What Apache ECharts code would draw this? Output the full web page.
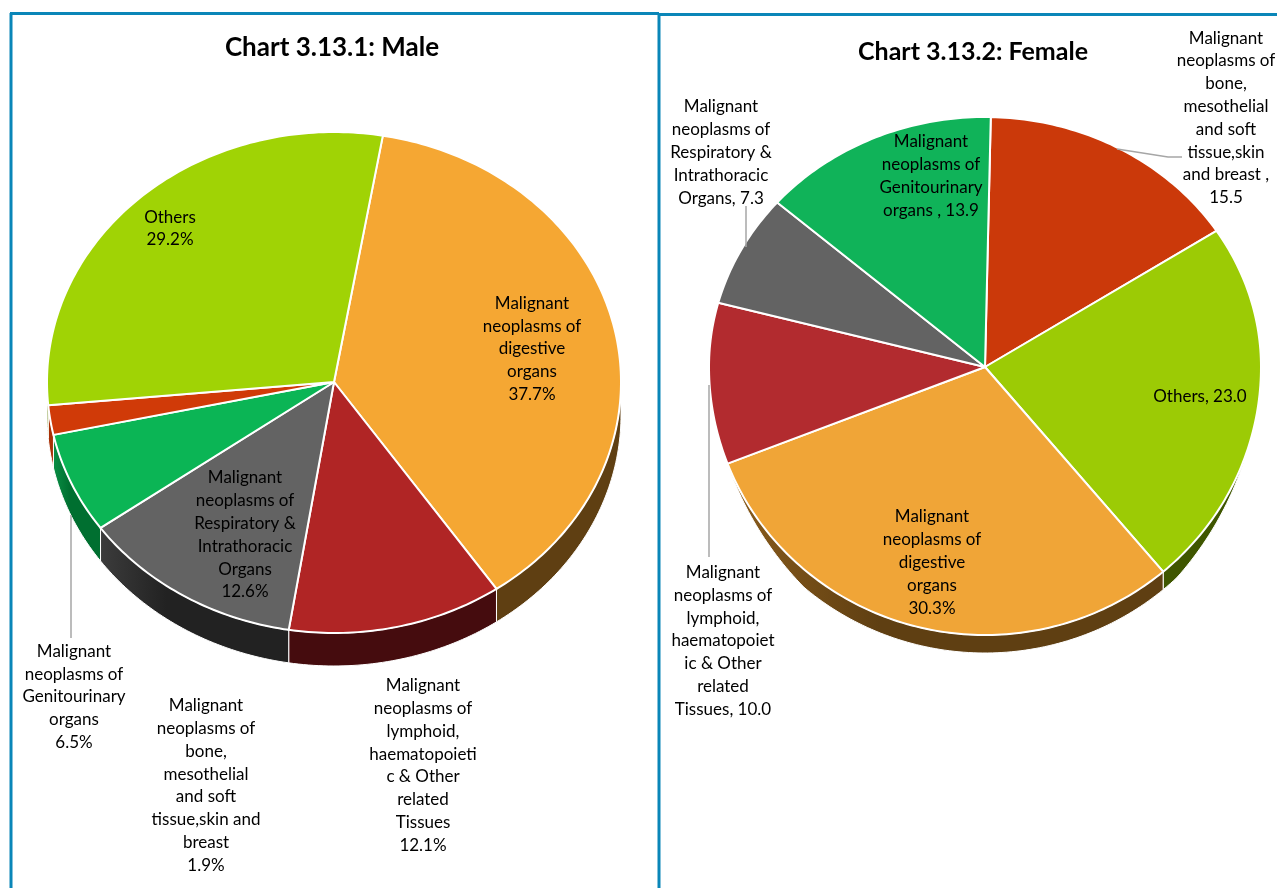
<!DOCTYPE html>
<html>
<head>
<meta charset="utf-8">
<title>Chart 3.13</title>
<script src="https://cdn.jsdelivr.net/npm/echarts@6/dist/echarts.min.js"></script>
<style>
  html, body { margin: 0; padding: 0; background: #fff; }
  #main { width: 1277px; height: 888px; }
</style>
</head>
<body>
<div id="main"></div>
<script>
  // values, clockwise from the first slice
  var maleNames = ['Digestive', 'Lymphoid', 'Respiratory', 'Genitourinary', 'Bone', 'Others'];
  var maleValues = [37.7, 12.1, 12.6, 6.5, 1.9, 29.2];
  var maleLabels = [
    'Malignant\nneoplasms of\ndigestive\norgans\n37.7%',
    'Malignant\nneoplasms of\nlymphoid,\nhaematopoieti\nc & Other\nrelated\nTissues\n12.1%',
    'Malignant\nneoplasms of\nRespiratory &\nIntrathoracic\nOrgans\n12.6%',
    'Malignant\nneoplasms of\nGenitourinary\norgans\n6.5%',
    'Malignant\nneoplasms of\nbone,\nmesothelial\nand soft\ntissue,skin and\nbreast\n1.9%',
    'Others\n29.2%'
  ];

  var femaleNames = ['Bone', 'Others', 'Digestive', 'Lymphoid', 'Respiratory', 'Genitourinary'];
  var femaleValues = [15.5, 23.0, 30.3, 10.0, 7.3, 13.9];
  var femaleLabels = [
    'Malignant\nneoplasms of\nbone,\nmesothelial\nand soft\ntissue,skin\nand breast ,\n15.5',
    'Others, 23.0',
    'Malignant\nneoplasms of\ndigestive\norgans\n30.3%',
    'Malignant\nneoplasms of\nlymphoid,\nhaematopoiet\nic & Other\nrelated\nTissues, 10.0',
    'Malignant\nneoplasms of\nRespiratory &\nIntrathoracic\nOrgans, 7.3',
    'Malignant\nneoplasms of\nGenitourinary\norgans , 13.9'
  ];

  // where the pies and their labels sit, and how they look
  var malePie = {
    cx: 334, cy: 382, rx: 287, ryTop: 250, ryBottom: 251, depth: 33, startDeg: 9.8,
    wallFrom: 90, wallTo: 270, taper: 0,
    labelPos: [[532, 349], [423, 765.5], [245, 535], [74, 697], [206, 785.5], [170, 228.5]],
    top: {
      Digestive: '#f5a733', Lymphoid: '#b02525', Respiratory: '#636363',
      Genitourinary: '#0bb555', Bone: '#d03a08', Others: '#a0d305'
    },
    side: {
      Digestive: ['#5f3f12', '#5f3f12'], Lymphoid: ['#450c0e', '#450c0e'], Respiratory: ['#3c3c3c', '#222222'],
      Genitourinary: ['#0a8f45', '#006f30'], Bone: ['#a83006', '#a83006'], Others: ['#5f7d03', '#5f7d03']
    }
  };
  var femalePie = {
    cx: 985, cy: 367, rx: 276, ryTop: 250, ryBottom: 268, depth: 18, startDeg: 1.2,
    wallFrom: 108, wallTo: 249, taper: 28,
    labelPos: [[1226, 118], [1200, 397], [932, 562.5], [723, 641], [721, 152.5], [931, 176]],
    top: {
      Digestive: '#f0a537', Lymphoid: '#b22b2f', Respiratory: '#636363',
      Genitourinary: '#10b359', Bone: '#cb390a', Others: '#9ccb05'
    },
    side: {
      Digestive: ['#8a5c1c', '#5f3f12'], Lymphoid: ['#6b1517', '#6b1517'], Respiratory: ['#3c3c3c', '#222222'],
      Genitourinary: ['#0a8f45', '#006f30'], Bone: ['#8a2806', '#8a2806'], Others: ['#3f5600', '#3f5600']
    }
  };

  var labelFont = '17px Lato';

  function ellipsePoint(pie, deg, shift) {
    var a = deg * Math.PI / 180;
    var c = Math.cos(a);
    return [pie.cx + pie.rx * Math.sin(a), pie.cy - (c > 0 ? pie.ryTop : pie.ryBottom) * c + shift];
  }

  // wall height, thinning out towards the ends of the visible wall on the flatter pie
  function wallShift(pie, deg) {
    if (!pie.taper) { return pie.depth; }
    var edge = Math.min(deg - pie.wallFrom, pie.wallTo - deg);
    return pie.depth * Math.max(0, Math.min(1, edge / pie.taper));
  }

  function arcPoints(pie, from, to, isLower) {
    var pts = [];
    var n = Math.max(2, Math.ceil(to - from));
    for (var i = 0; i <= n; i++) {
      var deg = from + (to - from) * i / n;
      pts.push(ellipsePoint(pie, deg, isLower ? wallShift(pie, deg) : 0));
    }
    return pts;
  }

  function pieItem(pie, names, values, labels) {
    var total = values.reduce(function (s, v) { return s + v; }, 0);
    return function (params, api) {
      var i = params.dataIndex;
      var before = 0;
      for (var k = 0; k < i; k++) { before += values[k]; }
      var from = pie.startDeg + before / total * 360;
      var to = from + api.value(0) / total * 360;
      var name = names[i];
      var children = [];

      // only the front of the drum shows a wall
      var wallFrom = Math.max(from, pie.wallFrom);
      var wallTo = Math.min(to, pie.wallTo);
      if (wallTo > wallFrom) {
        var upper = arcPoints(pie, wallFrom, wallTo, false);
        var lower = arcPoints(pie, wallFrom, wallTo, true).reverse();
        children.push({
          type: 'polygon',
          z2: 1,
          shape: { points: upper.concat(lower) },
          style: {
            fill: new echarts.graphic.LinearGradient(0, 0, 1, 0, [
              { offset: 0, color: pie.side[name][0] },
              { offset: 0.35, color: pie.side[name][1] },
              { offset: 1, color: pie.side[name][1] }
            ]),
            stroke: '#fff',
            lineWidth: 1
          }
        });
      }

      children.push({
        type: 'polygon',
        z2: 2,
        shape: { points: [[pie.cx, pie.cy]].concat(arcPoints(pie, from, to, false)) },
        style: { fill: pie.top[name], stroke: '#fff', lineWidth: 2, lineJoin: 'round' }
      });

      children.push({
        type: 'text',
        z2: 5,
        style: {
          text: labels[i],
          x: pie.labelPos[i][0],
          y: pie.labelPos[i][1],
          textAlign: 'center',
          textVerticalAlign: 'middle',
          font: labelFont,
          lineHeight: 22.8,
          fill: '#000'
        }
      });
      return { type: 'group', children: children };
    };
  }

  function leader(points) {
    return {
      type: 'polyline',
      silent: true,
      z: 3,
      shape: { points: points },
      style: { stroke: '#a6a6a6', lineWidth: 1.5, fill: null }
    };
  }

  function frameLine(x1, y1, x2, y2, w, color) {
    return {
      type: 'line',
      silent: true,
      shape: { x1: x1, y1: y1, x2: x2, y2: y2 },
      style: { stroke: color, lineWidth: w }
    };
  }

  var option = {
    backgroundColor: '#fff',
    animation: false,
    title: [{
      text: 'Chart 3.13.1: Male',
      left: 327,
      top: 30,
      textAlign: 'center',
      textStyle: { fontFamily: 'Lato', fontSize: 26, fontWeight: 'bold', color: '#000' }
    }, {
      text: 'Chart 3.13.2: Female',
      left: 968,
      top: 34,
      textAlign: 'center',
      textStyle: { fontFamily: 'Lato', fontSize: 25, fontWeight: 'bold', color: '#000' }
    }],
    graphic: [
      frameLine(10, 13.5, 659, 13.5, 3, '#0a86b8'),
      frameLine(659, 14.5, 1277, 14.5, 3, '#0a86b8'),
      frameLine(11, 13, 11, 888, 3, '#0a86b8'),
      frameLine(659, 13, 659, 888, 3, '#0a86b8'),
      leader([[71, 515], [71, 638]]),
      leader([[746, 206], [746, 247]]),
      leader([[1117, 149], [1168, 157], [1182, 157]]),
      leader([[709, 385], [709, 557]])
    ],
    series: [{
      type: 'custom',
      name: 'Male',
      coordinateSystem: 'none',
      renderItem: pieItem(malePie, maleNames, maleValues, maleLabels),
      data: maleValues
    }, {
      type: 'custom',
      name: 'Female',
      coordinateSystem: 'none',
      renderItem: pieItem(femalePie, femaleNames, femaleValues, femaleLabels),
      data: femaleValues
    }]
  };

  echarts.init(document.getElementById('main')).setOption(option);
</script>
</body>
</html>
